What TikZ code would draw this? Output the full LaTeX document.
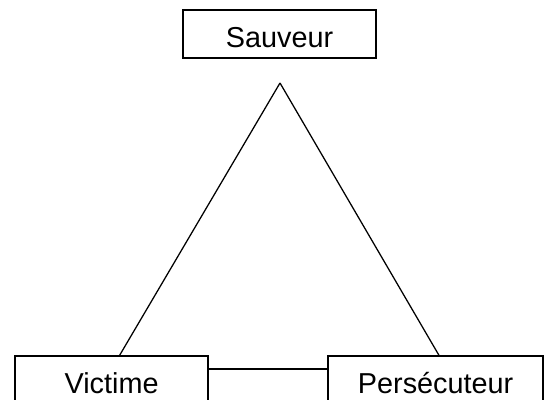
\documentclass[tikz,border=0pt]{standalone}
\usepackage{fontspec}
\setmainfont{Liberation Sans}
\usetikzlibrary{positioning}

\tikzset{
    role/.style={draw, black, line width=0.9pt, minimum height=1.2cm, inner sep=0pt, text height=19pt, text depth=0pt, font=\fontsize{20.5}{24}\selectfont},
    lien/.style={black, line width=0.9pt}
}

\begin{document}
\begin{tikzpicture}
        \useasboundingbox (0,0) rectangle (13.725,10);

        \node[role, minimum width=4.825cm] (sauveur) at (6.99,9.15) {Sauveur};
        \node[role, minimum width=4.825cm] (victime) at (2.79,0.5) {Victime};
        \node[role, minimum width=5.375cm] (persecuteur) at (10.89,0.5) {Persécuteur};

        \coordinate (sommet) at (7.0,7.925);

        \draw[lien] (sommet) -- ([xshift=0.2cm]victime.north);
        \draw[lien] (sommet) -- ([xshift=0.085cm]persecuteur.north);
        \draw[lien] ([yshift=0.275cm]victime.east) -- ([yshift=0.275cm]persecuteur.west);
    \end{tikzpicture}
\end{document}
